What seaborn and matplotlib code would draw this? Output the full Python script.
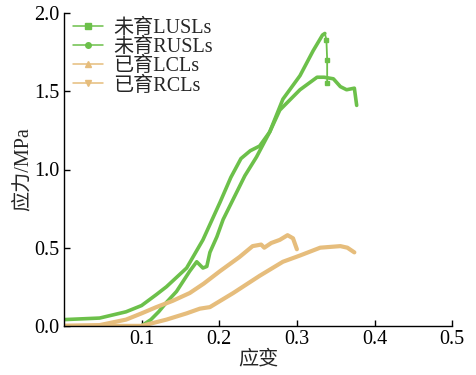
import numpy as np
import pandas as pd
import matplotlib
matplotlib.use("Agg")
import matplotlib.pyplot as plt
from matplotlib.lines import Line2D
import seaborn as sns

# values
lusl_x = [0.0, 0.10, 0.112, 0.122, 0.132, 0.145, 0.162, 0.171, 0.179, 0.184, 0.188, 0.197, 0.205, 0.218,
          0.233, 0.248, 0.265, 0.282, 0.304, 0.321, 0.333, 0.336, 0.338, 0.339, 0.339]
lusl_y = [0.0, 0.0, 0.04, 0.09, 0.15, 0.22, 0.35, 0.41, 0.37, 0.38, 0.47, 0.57, 0.68, 0.81,
          0.96, 1.08, 1.24, 1.45, 1.60, 1.76, 1.86, 1.87, 1.83, 1.70, 1.55]

rusl_x = [0.0, 0.046, 0.08, 0.10, 0.119, 0.132, 0.145, 0.158, 0.179, 0.201, 0.215, 0.228, 0.24,
          0.252, 0.265, 0.278, 0.304, 0.326, 0.335, 0.347, 0.356, 0.364, 0.374, 0.377]
rusl_y = [0.04, 0.05, 0.09, 0.13, 0.20, 0.25, 0.31, 0.37, 0.55, 0.79, 0.95, 1.07, 1.12,
          1.15, 1.24, 1.38, 1.51, 1.59, 1.59, 1.58, 1.53, 1.51, 1.52, 1.41]

lcl_x = [0.0, 0.046, 0.08, 0.10, 0.119, 0.14, 0.162, 0.18, 0.201, 0.226, 0.243, 0.254, 0.258,
         0.267, 0.278, 0.288, 0.295, 0.30]
lcl_y = [0.0, 0.005, 0.04, 0.08, 0.12, 0.16, 0.21, 0.27, 0.35, 0.44, 0.51, 0.52, 0.50,
         0.53, 0.55, 0.58, 0.56, 0.49]

rcl_x = [0.0, 0.10, 0.132, 0.158, 0.175, 0.188, 0.218, 0.252, 0.282, 0.304, 0.33, 0.356, 0.365, 0.374]
rcl_y = [0.0, 0.0, 0.04, 0.08, 0.11, 0.12, 0.21, 0.32, 0.41, 0.45, 0.50, 0.51, 0.50, 0.47]

names = ["未育LUSLs", "未育RUSLs", "已育LCLs", "已育RCLs"]
green = "#6cc04a"
tan = "#e6bd7c"
colors = [green, green, tan, tan]
markers = ["s", "o", "^", "v"]

# the LUSLs curve up to its peak is drawn thick; the sudden drop after it thin
n_peak = lusl_y.index(max(lusl_y)) + 1
curves = [(lusl_x[:n_peak], lusl_y[:n_peak]), (rusl_x, rusl_y), (lcl_x, lcl_y), (rcl_x, rcl_y)]

frames = []
for name, (xs, ys) in zip(names, curves):
    d = pd.DataFrame({"strain": xs, "stress": ys})
    d["sample"] = name
    frames.append(d)
df = pd.concat(frames, ignore_index=True)

sns.set_style("ticks")
plt.rcParams["font.family"] = ["Liberation Serif", "Noto Sans CJK SC", "DejaVu Sans"]

fig = plt.figure(figsize=(4.77, 3.75), dpi=100)
ax = fig.add_axes([0.134, 0.131, 0.814, 0.834])

sns.lineplot(data=df, x="strain", y="stress", hue="sample", hue_order=names,
             palette=colors, sort=False, estimator=None, ax=ax, legend=False)
for ln, w in zip(ax.lines, [2.6, 2.6, 3.0, 3.0]):
    ln.set_linewidth(w)
    ln.set_solid_capstyle("round")
    ln.set_solid_joinstyle("round")

# thin drop with square markers
drop_x = lusl_x[n_peak - 1:]
drop_y = lusl_y[n_peak - 1:]
ax.plot(drop_x, drop_y, color=green, lw=1.3, marker="s", ms=3.5,
        markevery=list(range(1, len(drop_x))))

ax.set_xlim(0, 0.5)
ax.set_ylim(0, 2.0)
ax.set_xticks([0.1, 0.2, 0.3, 0.4, 0.5])
ax.set_yticks([0.0, 0.5, 1.0, 1.5, 2.0])
ax.tick_params(direction="in", length=4, width=1, labelsize=14.5, colors="black", pad=3)
ax.spines["top"].set_visible(False)
ax.spines["right"].set_visible(False)
for s in ["left", "bottom"]:
    ax.spines[s].set_linewidth(1.0)
    ax.spines[s].set_color("black")
ax.set_xlabel("应变", fontsize=14.5, labelpad=1)
ax.set_ylabel("应力/MPa", fontsize=14.5, labelpad=1)

handles = [Line2D([], [], color=c, marker=m, ms=4, lw=1.1) for c, m in zip(colors, markers)]
ax.legend(handles, names, loc="upper left", bbox_to_anchor=(-0.018, 1.033), frameon=False,
          fontsize=14.5, handlelength=1.5, labelspacing=0.0, borderaxespad=0.4, handletextpad=0.5)

fig.savefig("out.png", dpi=100)
